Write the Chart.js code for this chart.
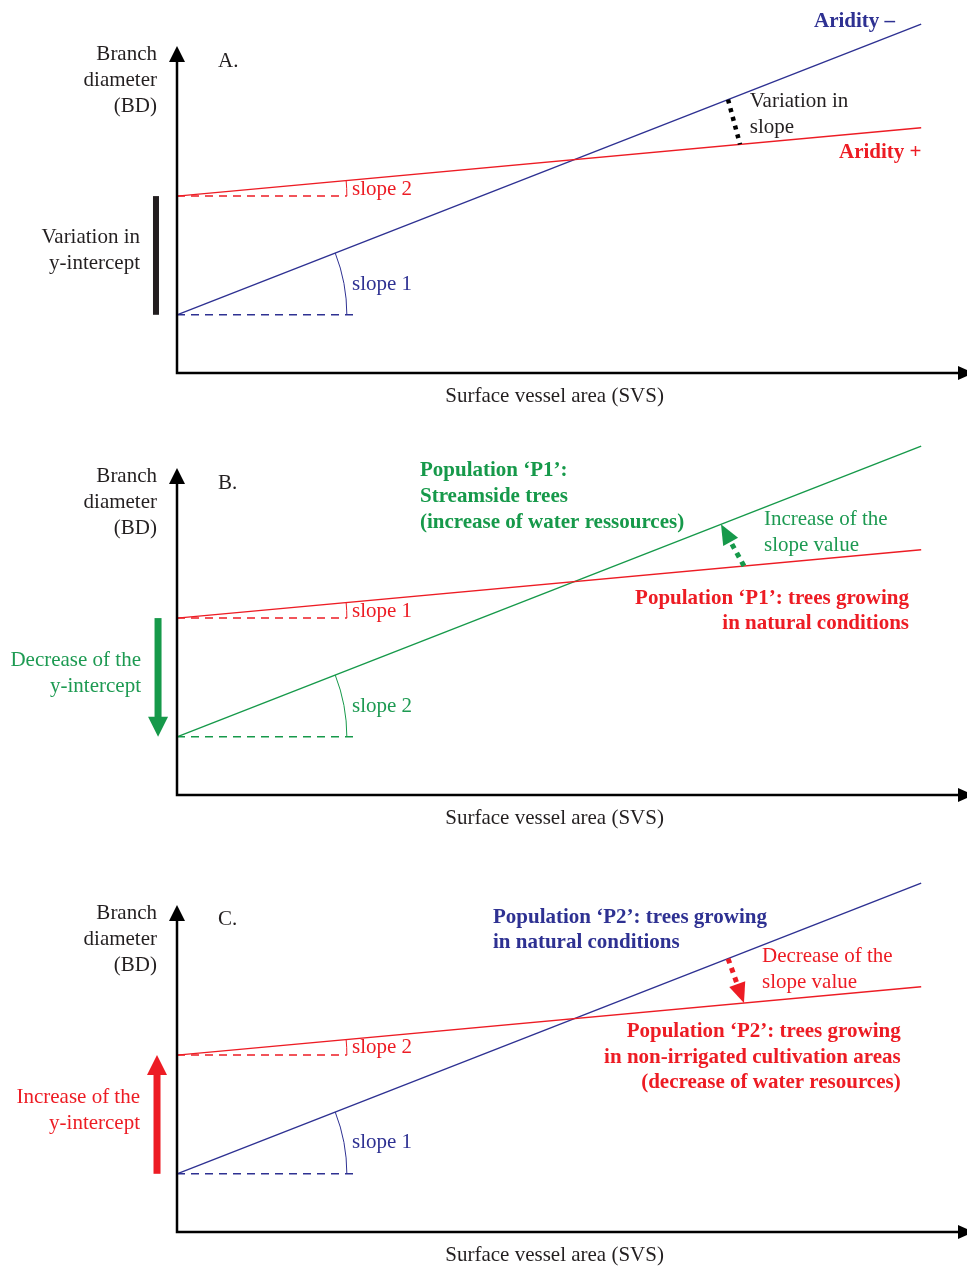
<!DOCTYPE html>
<html>
<head>
<meta charset="utf-8">
<script src="https://cdn.jsdelivr.net/npm/chart.js@4.4.1/dist/chart.umd.min.js"></script>
<style>
  html, body { margin: 0; padding: 0; background: #fff; width: 967px; height: 1268px; overflow: hidden; }
  .panel { position: absolute; left: 0; width: 967px; }
</style>
</head>
<body>
<div class="panel" style="top:0"><canvas id="chartA" width="967" height="422"></canvas></div>
<div class="panel" style="top:422px"><canvas id="chartB" width="967" height="437"></canvas></div>
<div class="panel" style="top:859px"><canvas id="chartC" width="967" height="409"></canvas></div>

<script>
// conceptual lines, same in the three panels (axis units 0..100)
const svsRange = [0, 94.2];
const bdSteep = [17.8, 106.7];   // steeper line, low y-intercept
const bdFlat = [54.1, 75.0];     // flatter line, high y-intercept
const refFlatSpan = [0, 21.5];   // dashed horizontal at the flat intercept
const refSteepSpan = [0, 22.9];  // dashed horizontal at the steep intercept

const BLUE = '#2e3192';
const RED = '#ed1c24';
const GREEN = '#16994a';
const GREEN_TXT = '#1d9a52';
const INK = '#231f20';
const SERIF = '"Liberation Serif", "DejaVu Serif", serif';

const pts = (xs, ys) => xs.map((x, i) => ({ x: x, y: ys[i] }));
const yOn = (line, x) => line[0] + (line[1] - line[0]) * (x - svsRange[0]) / (svsRange[1] - svsRange[0]);

function arrowHead(ctx, tx, ty, fx, fy, len, width, color) {
  const a = Math.atan2(ty - fy, tx - fx);
  ctx.save();
  ctx.translate(tx, ty);
  ctx.rotate(a);
  ctx.beginPath();
  ctx.moveTo(0, 0);
  ctx.lineTo(-len, width / 2);
  ctx.lineTo(-len, -width / 2);
  ctx.closePath();
  ctx.fillStyle = color;
  ctx.fill();
  ctx.restore();
}

const diagramPlugin = {
  id: 'diagram',
  afterDatasetsDraw(chart, args, o) {
    const ctx = chart.ctx;
    const xs = chart.scales.x, ys = chart.scales.y;
    const px = v => xs.getPixelForValue(v);
    const py = v => ys.getPixelForValue(v);
    ctx.save();

    // axes with arrow heads
    ctx.strokeStyle = '#000';
    ctx.lineWidth = 2.5;
    ctx.beginPath();
    ctx.moveTo(px(0), py(0) + 1.25);
    ctx.lineTo(px(0), py(100) + 12);
    ctx.moveTo(px(0) - 1.25, py(0));
    ctx.lineTo(px(100) - 4, py(0));
    ctx.stroke();
    arrowHead(ctx, px(0), py(100), px(0), py(0), 16, 16, '#000');
    arrowHead(ctx, px(100) + 7, py(0), px(0), py(0), 16, 14, '#000');

    // slope angle arcs
    const r = px(21.5) - px(0);
    [[bdSteep, o.steepColor], [bdFlat, o.flatColor]].forEach(([line, col]) => {
      const cx = px(svsRange[0]), cy = py(line[0]);
      const ang = Math.atan2(py(line[1]) - cy, px(svsRange[1]) - cx);
      ctx.strokeStyle = col;
      ctx.lineWidth = 1;
      ctx.beginPath();
      ctx.arc(cx, cy, r, ang, 0);
      ctx.stroke();
    });

    // y-intercept marker (bar or arrow) left of the y axis
    const im = o.intercept;
    const ix = px(im.x);
    ctx.fillStyle = im.color;
    ctx.strokeStyle = im.color;
    if (im.kind === 'bar') {
      ctx.fillRect(ix - 3, py(bdFlat[0]), 6, py(bdSteep[0]) - py(bdFlat[0]));
    } else {
      const fromY = im.kind === 'down' ? py(bdFlat[0]) : py(bdSteep[0]);
      const toY = im.kind === 'down' ? py(bdSteep[0]) : py(bdFlat[0]);
      const dir = Math.sign(toY - fromY);
      ctx.fillRect(ix - 3.5, Math.min(fromY, toY - dir * 18), 7, Math.abs(toY - dir * 18 - fromY));
      arrowHead(ctx, ix, toY, ix, fromY, 20, 20, im.color);
    }

    // dotted slope-change marker between the two lines
    const sm = o.slopeMark;
    const a0 = { x: px(sm.x0), y: py(yOn(sm.from === 'steep' ? bdSteep : bdFlat, sm.x0)) };
    const a1 = { x: px(sm.x1), y: py(yOn(sm.from === 'steep' ? bdFlat : bdSteep, sm.x1)) };
    ctx.strokeStyle = sm.color;
    ctx.lineWidth = sm.width;
    ctx.setLineDash(sm.dash);
    ctx.beginPath();
    ctx.moveTo(a0.x, a0.y);
    if (sm.head) {
      const d = Math.hypot(a1.x - a0.x, a1.y - a0.y);
      const k = (d - 17) / d;
      ctx.lineTo(a0.x + (a1.x - a0.x) * k, a0.y + (a1.y - a0.y) * k);
    } else {
      ctx.lineTo(a1.x, a1.y);
    }
    ctx.stroke();
    ctx.setLineDash([]);
    if (sm.head) arrowHead(ctx, a1.x, a1.y, a0.x, a0.y, 20, 17, sm.color);

    // text
    ctx.textBaseline = 'middle';
    o.texts.forEach(t => {
      ctx.font = (t.bold ? 'bold ' : '') + '21px ' + SERIF;
      ctx.fillStyle = t.color;
      ctx.textAlign = t.align || 'left';
      t.lines.forEach((s, i) => ctx.fillText(s, px(t.x), py(t.y) + i * (t.lh || 26)));
    });
    ctx.restore();
  }
};

function buildPanel(id, h, cfg) {
  new Chart(document.getElementById(id), {
    type: 'line',
    data: {
      datasets: [
        { data: pts(svsRange, bdFlat), borderColor: cfg.flatColor, borderWidth: 1.4 },
        { data: pts(svsRange, bdSteep), borderColor: cfg.steepColor, borderWidth: 1.4 },
        { data: pts(refFlatSpan, [bdFlat[0], bdFlat[0]]), borderColor: cfg.flatColor, borderWidth: 1.5, borderDash: [8, 6] },
        { data: pts(refSteepSpan, [bdSteep[0], bdSteep[0]]), borderColor: cfg.steepColor, borderWidth: 1.5, borderDash: [8, 6] }
      ]
    },
    options: {
      responsive: false,
      animation: false,
      layout: { padding: { left: 177, right: 0, top: 46, bottom: h - 373 } },
      elements: { point: { radius: 0 }, line: { tension: 0 } },
      datasets: { line: { clip: false } },
      scales: {
        x: { type: 'linear', min: 0, max: 100, display: false },
        y: { type: 'linear', min: 0, max: 100, display: false }
      },
      plugins: { legend: { display: false }, tooltip: { enabled: false }, diagram: cfg }
    },
    plugins: [diagramPlugin]
  });
}

const axisTexts = (letter, yl) => [
  { lines: ['Branch', 'diameter', '(BD)'], x: -2.53, y: 97.5, align: 'right', color: INK },
  { lines: [letter], x: 5.19, y: yl, color: INK },
  { lines: ['Surface vessel area (SVS)'], x: 47.8, y: -7.1, align: 'center', color: INK }
];

buildPanel('chartA', 422, {
  flatColor: RED, steepColor: BLUE,
  intercept: { kind: 'bar', x: -2.66, color: INK },
  slopeMark: { from: 'steep', x0: 69.75, x1: 71.27, color: '#000', width: 4.5, dash: [4, 5], head: false },
  texts: axisTexts('A.', 95.4).concat([
    { lines: ['Variation in', 'y-intercept'], x: -4.68, y: 41.3, align: 'right', color: INK },
    { lines: ['slope 2'], x: 22.15, y: 56.0, color: RED },
    { lines: ['slope 1'], x: 22.15, y: 27.2, color: BLUE },
    { lines: ['Aridity \u2013'], x: 90.9, y: 107.6, align: 'right', color: BLUE, bold: true },
    { lines: ['Variation in', 'slope'], x: 72.5, y: 82.9, color: INK },
    { lines: ['Aridity +'], x: 83.8, y: 67.3, color: RED, bold: true }
  ])
});

buildPanel('chartB', 437, {
  flatColor: RED, steepColor: GREEN,
  intercept: { kind: 'down', x: -2.4, color: GREEN },
  slopeMark: { from: 'flat', x0: 71.77, x1: 68.86, color: GREEN, width: 5, dash: [5, 5], head: true },
  texts: axisTexts('B.', 95.4).concat([
    { lines: ['Population \u2018P1\u2019:', 'Streamside trees', '(increase of water ressources)'], x: 30.76, y: 99.1, color: GREEN, bold: true },
    { lines: ['slope 1'], x: 22.15, y: 56.0, color: RED },
    { lines: ['slope 2'], x: 22.15, y: 27.2, color: GREEN_TXT },
    { lines: ['Decrease of the', 'y-intercept'], x: -4.56, y: 41.0, align: 'right', color: GREEN_TXT },
    { lines: ['Increase of the', 'slope value'], x: 74.3, y: 84.4, color: GREEN_TXT },
    { lines: ['Population \u2018P1\u2019: trees growing', 'in natural conditions'], x: 92.66, y: 60.2, align: 'right', color: RED, bold: true, lh: 25.5 }
  ])
});

buildPanel('chartC', 409, {
  flatColor: RED, steepColor: BLUE,
  intercept: { kind: 'up', x: -2.53, color: RED },
  slopeMark: { from: 'steep', x0: 69.75, x1: 71.77, color: RED, width: 5, dash: [5, 5], head: true },
  texts: axisTexts('C.', 95.7).concat([
    { lines: ['Population \u2018P2\u2019: trees growing', 'in natural conditions'], x: 40.0, y: 96.3, color: BLUE, bold: true, lh: 25.5 },
    { lines: ['Decrease of the', 'slope value'], x: 74.05, y: 84.4, color: RED },
    { lines: ['Population \u2018P2\u2019: trees growing', 'in non-irrigated cultivation areas', '(decrease of water resources)'], x: 91.6, y: 61.2, align: 'right', color: RED, bold: true, lh: 25.5 },
    { lines: ['Increase of the', 'y-intercept'], x: -4.68, y: 41.0, align: 'right', color: RED },
    { lines: ['slope 2'], x: 22.15, y: 56.3, color: RED },
    { lines: ['slope 1'], x: 22.15, y: 27.5, color: BLUE }
  ])
});
</script>
</body>
</html>
